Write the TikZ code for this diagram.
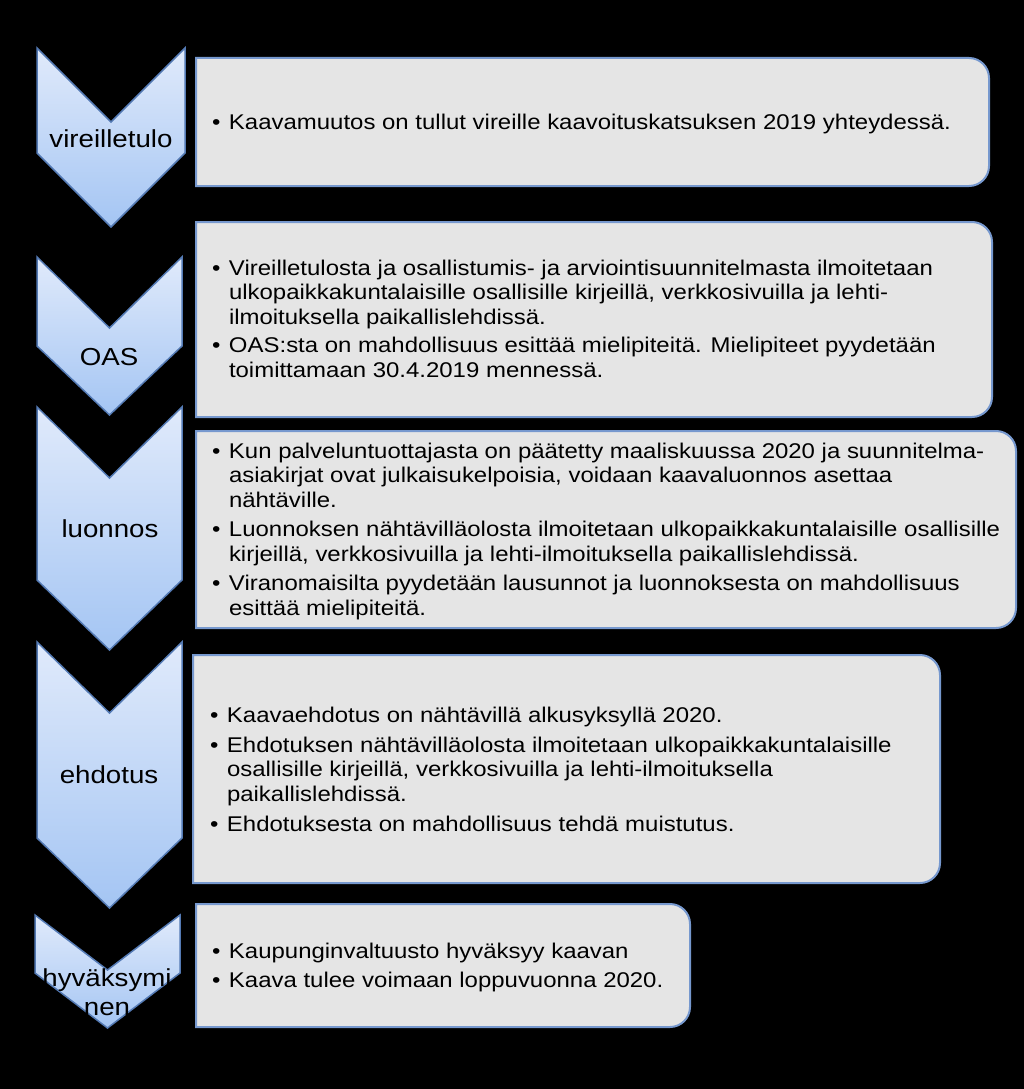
\documentclass[tikz,border=0pt]{standalone}
\usepackage{fontspec}
\setmainfont{Liberation Sans}[FakeStretch=1.125]
\definecolor{chevtop}{RGB}{224,234,251}
\definecolor{chevbot}{RGB}{164,197,243}
\definecolor{chevline}{RGB}{84,122,180}
\definecolor{boxfill}{RGB}{229,229,229}
\definecolor{boxline}{RGB}{118,152,206}
\newcommand\bl{\makebox[18pt][l]{\hspace{1pt}•}}
\tikzset{
  chev/.style={top color=chevtop, bottom color=chevbot, draw=chevline, line width=1.5pt, line join=miter},
  infobox/.style={fill=boxfill, draw=boxline, line width=2pt},
  txt/.style={inner sep=0pt, outer sep=0pt, text=black, anchor=base west,
    font=\fontsize{21.3}{24.5}\selectfont},
  lbl/.style={inner sep=0pt, outer sep=0pt, text=black, anchor=base,
    font=\fontsize{24.6}{29}\selectfont}
}
% chevron: left, right, top, notch, side, tip
\newcommand\chevron[6]{%
  \path[chev] (#1,#3) -- ({(#1+#2)/2},#4) -- (#2,#3) -- (#2,#5) -- ({(#1+#2)/2},#6) -- (#1,#5) -- cycle;}
% box: left, top, right, bottom (right corners rounded)
\newcommand\infobox[4]{%
  \path[infobox] (#1,#2) -- ({#3-20},#2) arc[start angle=-90, end angle=0, radius=20] -- (#3,{#4-20}) arc[start angle=0, end angle=90, radius=20] -- (#1,#4) -- cycle;}
\begin{document}
\begin{tikzpicture}[x=1pt,y=-1pt]
\fill[black] (0,0) rectangle (1024,1089);
\useasboundingbox (0,0) rectangle (1024,1089);

% chevrons
\chevron{37}{185}{48}{122}{153}{227}
\chevron{37}{182}{257}{328}{346}{415}
\chevron{37}{182}{407}{478}{580}{650}
\chevron{37}{182}{642}{713}{838}{908}
\chevron{35}{180}{915}{970}{973}{1028}

% boxes
\infobox{196}{58}{989}{186}
\infobox{196}{222}{992}{417}
\infobox{196}{431}{1016}{628}
\infobox{193}{655}{940}{883}
\infobox{196}{904}{690}{1027}

% chevron labels
\node[lbl] (l1) at (111,147) {vireilletulo};
\node[lbl] (l2) at (109,365) {OAS};
\node[lbl] (l3) at (110,537) {luonnos};
\node[lbl] (l4) at (109,783) {ehdotus};
\node[lbl] (l5a) at (107,986) {hyväksymi};
\node[lbl] (l5b) at (107,1015) {nen};

% box texts
\node[txt] (t1) at (211,130) {\begin{tabular}[t]{@{}l@{}l@{}}
\bl & Kaavamuutos on tullut vireille kaavoituskatsuksen 2019 yhteydessä.
\end{tabular}};

\node[txt] (t2) at (211,275) {\begin{tabular}[t]{@{}l@{}l@{}}
\bl & Vireilletulosta ja osallistumis- ja arviointisuunnitelmasta ilmoitetaan\\
 & ulkopaikkakuntalaisille osallisille kirjeillä, verkkosivuilla ja lehti-\\
 & ilmoituksella paikallislehdissä.\\[4pt]
\bl & OAS:sta on mahdollisuus esittää mielipiteitä. Mielipiteet pyydetään\\
 & toimittamaan 30.4.2019 mennessä.
\end{tabular}};

\node[txt] (t3) at (211,458) {\begin{tabular}[t]{@{}l@{}l@{}}
\bl & Kun palveluntuottajasta on päätetty maaliskuussa 2020 ja suunnitelma-\\
 & asiakirjat ovat julkaisukelpoisia, voidaan kaavaluonnos asettaa\\
 & nähtäville.\\[5pt]
\bl & Luonnoksen nähtävilläolosta ilmoitetaan ulkopaikkakuntalaisille osallisille\\
 & kirjeillä, verkkosivuilla ja lehti-ilmoituksella paikallislehdissä.\\[5pt]
\bl & Viranomaisilta pyydetään lausunnot ja luonnoksesta on mahdollisuus\\
 & esittää mielipiteitä.
\end{tabular}};

\node[txt] (t4) at (209,722) {\begin{tabular}[t]{@{}l@{}l@{}}
\bl & Kaavaehdotus on nähtävillä alkusyksyllä 2020.\\[5.5pt]
\bl & Ehdotuksen nähtävilläolosta ilmoitetaan ulkopaikkakuntalaisille\\
 & osallisille kirjeillä, verkkosivuilla ja lehti-ilmoituksella\\
 & paikallislehdissä.\\[5.5pt]
\bl & Ehdotuksesta on mahdollisuus tehdä muistutus.
\end{tabular}};

\node[txt] (t5) at (211,958) {\begin{tabular}[t]{@{}l@{}l@{}}
\bl & Kaupunginvaltuusto hyväksyy kaavan\\[4.5pt]
\bl & Kaava tulee voimaan loppuvuonna 2020.
\end{tabular}};
\end{tikzpicture}
\end{document}
